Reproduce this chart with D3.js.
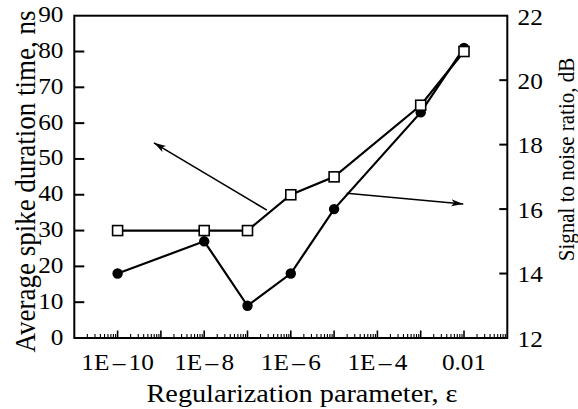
<!DOCTYPE html>
<html>
<head>
<meta charset="utf-8">
<script src="https://cdn.jsdelivr.net/npm/d3@7"></script>
<style>
  html, body { margin: 0; padding: 0; background: #fff; }
  svg { display: block; }
  text { font-family: "Liberation Serif", "Times New Roman", serif; fill: #000; }
</style>
</head>
<body>
<svg id="chart" width="578" height="409"></svg>
<script>
// ---- data ----
const epsilon = [1e-10, 1e-8, 1e-7, 1e-6, 1e-5, 1e-3, 1e-2];
const spikeDuration = [30, 30, 30, 40, 45, 65, 80];   // left axis, ns (squares)
const snr = [14, 15, 13, 14, 16, 19, 21];             // right axis, dB (circles)
const xTickValues = [1e-10, 1e-8, 1e-6, 1e-4, 1e-2];
const xTickLabels = ["1E\u201310", "1E\u20138", "1E\u20136", "1E\u20134", "0.01"];
const leftTicks = [0, 10, 20, 30, 40, 50, 60, 70, 80, 90];
const rightTicks = [12, 14, 16, 18, 20, 22];
// arrow annotations [x, y] in data space
const arrowLeft = [[2.8e-7, 35.7], [6.9e-10, 54.5]];   // left axis
const arrowRight = [[1.95e-5, 16.49], [9.6e-3, 16.16]]; // right axis

const W = 578, H = 409;
const m = { left: 74.3, right: 70.7, top: 15.7, bottom: 71 };
const x0 = m.left, x1 = W - m.right, y0 = H - m.bottom, y1 = m.top;

const x = d3.scaleLog().domain([1e-11, 1e-1]).range([x0, x1]);
const yL = d3.scaleLinear().domain([0, 90]).range([y0, y1]);
const yR = d3.scaleLinear().domain([12, 22]).range([y0, y1]);

const svg = d3.select("#chart");
const SX = 1.1; // horizontal stretch of the lettering in the reference

// arrow marker
const defs = svg.append("defs");
defs.append("marker")
  .attr("id", "ah").attr("viewBox", "0 -4 12 8")
  .attr("refX", 12).attr("refY", 0)
  .attr("markerWidth", 12).attr("markerHeight", 8)
  .attr("markerUnits", "userSpaceOnUse")
  .attr("orient", "auto")
  .append("path").attr("d", "M0,-3.5L12,0L0,3.5L3,0Z").attr("fill", "#000");

// bottom minor/major ticks
const minorVals = [];
for (let e = -11; e < -1; e++) {
  for (let k = 2; k <= 9; k++) minorVals.push(k * Math.pow(10, e));
}
const majorVals = d3.range(-10, -1).map(e => Math.pow(10, e));
svg.append("g").selectAll("line").data(minorVals).join("line")
  .attr("x1", d => x(d)).attr("x2", d => x(d))
  .attr("y1", y0).attr("y2", y0 - 4)
  .attr("stroke", "#000").attr("stroke-width", 1.1);
svg.append("g").selectAll("line").data(majorVals).join("line")
  .attr("x1", d => x(d)).attr("x2", d => x(d))
  .attr("y1", y0).attr("y2", y0 - 7.5)
  .attr("stroke", "#000").attr("stroke-width", 1.6);

// left ticks (inward)
svg.append("g").selectAll("line").data(leftTicks.slice(1, -1)).join("line")
  .attr("x1", x0).attr("x2", x0 + 10)
  .attr("y1", d => yL(d)).attr("y2", d => yL(d))
  .attr("stroke", "#000").attr("stroke-width", 2);
// right ticks (inward)
svg.append("g").selectAll("line").data(rightTicks.slice(1, -1)).join("line")
  .attr("x1", x1).attr("x2", x1 - 8)
  .attr("y1", d => yR(d)).attr("y2", d => yR(d))
  .attr("stroke", "#000").attr("stroke-width", 2);

// frame
svg.append("rect").attr("x", x0).attr("y", y1)
  .attr("width", x1 - x0).attr("height", y0 - y1)
  .attr("fill", "none").attr("stroke", "#000").attr("stroke-width", 2);

// tick labels
svg.append("g").selectAll("text").data(leftTicks).join("text")
  .attr("transform", d => `translate(63.5,${yL(d) + 6.5}) scale(${SX},1)`)
  .attr("text-anchor", "end").attr("font-size", 23)
  .text(d => d);
svg.append("g").selectAll("text").data(rightTicks).join("text")
  .attr("transform", d => `translate(517.5,${yR(d) + 8.8}) scale(${SX},1)`)
  .attr("text-anchor", "start").attr("font-size", 23)
  .text(d => d);
svg.append("g").selectAll("text").data(xTickValues).join("text")
  .attr("transform", d => `translate(${x(d)},370) scale(${SX},1)`)
  .attr("text-anchor", "middle").attr("font-size", 23)
  .each(function(d, i) {
    const parts = xTickLabels[i].split("\u2013");
    const t = d3.select(this);
    if (parts.length === 1) { t.text(parts[0]); return; }
    t.append("tspan").text(parts[0]);
    t.append("tspan").attr("dx", 3).text("\u2013");
    t.append("tspan").attr("dx", 3).text(parts[1]);
  });

// axis titles
svg.append("text")
  .attr("transform", "translate(302,401.5) scale(1.13,1)")
  .attr("text-anchor", "middle").attr("font-size", 25)
  .text("Regularization parameter, \u03b5");
svg.append("text")
  .attr("transform", "translate(35,181.5) scale(1.08,1) rotate(-90)")
  .attr("text-anchor", "middle").attr("font-size", 27)
  .text("Average spike duration time, ns");
svg.append("text")
  .attr("transform", "translate(574,159.5) scale(1.12,1) rotate(-90)")
  .attr("text-anchor", "middle").attr("font-size", 21)
  .text("Signal to noise ratio, dB");

// arrows
const lineL = d3.line().x(d => x(d[0])).y(d => yL(d[1]));
const lineR = d3.line().x(d => x(d[0])).y(d => yR(d[1]));
svg.append("path").attr("d", lineL(arrowLeft)).attr("fill", "none")
  .attr("stroke", "#000").attr("stroke-width", 1.6).attr("marker-end", "url(#ah)");
svg.append("path").attr("d", lineR(arrowRight)).attr("fill", "none")
  .attr("stroke", "#000").attr("stroke-width", 1.6).attr("marker-end", "url(#ah)");

// SNR series (circles, right axis)
const snrPts = epsilon.map((e, i) => [e, snr[i]]);
svg.append("path").attr("d", lineR(snrPts)).attr("fill", "none")
  .attr("stroke", "#000").attr("stroke-width", 2.2);
svg.append("g").selectAll("circle").data(snrPts).join("circle")
  .attr("cx", d => x(d[0])).attr("cy", d => yR(d[1])).attr("r", 5.2)
  .attr("fill", "#000");

// spike duration series (squares, left axis)
const durPts = epsilon.map((e, i) => [e, spikeDuration[i]]);
svg.append("path").attr("d", lineL(durPts)).attr("fill", "none")
  .attr("stroke", "#000").attr("stroke-width", 2.2);
svg.append("g").selectAll("rect").data(durPts).join("rect")
  .attr("x", d => x(d[0]) - 5).attr("y", d => yL(d[1]) - 5)
  .attr("width", 10).attr("height", 10)
  .attr("fill", "#fff").attr("stroke", "#000").attr("stroke-width", 1.6);
</script>
</body>
</html>
